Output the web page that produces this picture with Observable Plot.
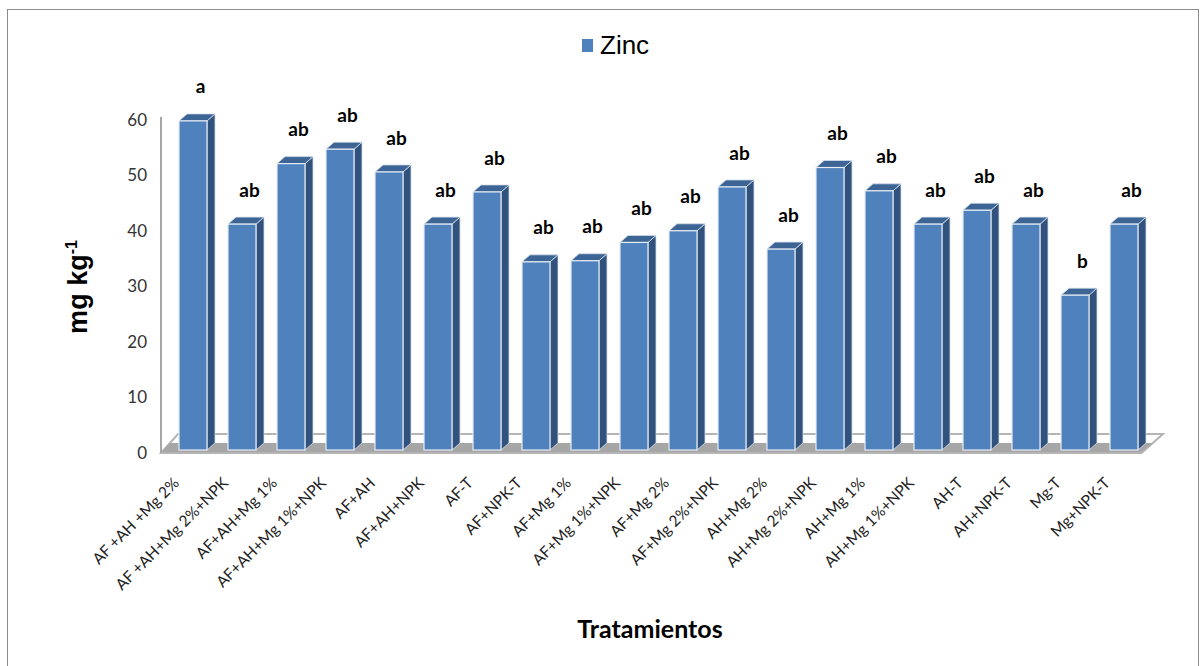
<!DOCTYPE html>
<html>
<head>
<meta charset="utf-8">
<script src="https://cdn.jsdelivr.net/npm/d3@7"></script>
<script src="https://cdn.jsdelivr.net/npm/@observablehq/plot@0.6"></script>
<style>
  body { margin: 0; background: #fff; }
  #wrap { position: relative; width: 1204px; height: 666px; overflow: hidden; background: #fff; }
  #border { position: absolute; left: 7px; top: 9px; width: 1192px; height: 720px; border: 1.5px solid #8C8C8C; box-sizing: border-box; }
  #chart { position: absolute; left: 0; top: 0; }
  #legend { position: absolute; left: 582px; top: 30px; height: 30px; display: flex; align-items: center; font-family: "Liberation Sans", Arial, sans-serif; font-size: 26px; color: #000; }
  #legend .sw { width: 11px; height: 13px; background: #4F81BD; margin-right: 7px; }
  #ytitle { position: absolute; left: 78px; top: 287px; transform: translate(-50%, -50%) rotate(-90deg); font-family: "Liberation Sans", Arial, sans-serif; font-weight: bold; font-size: 27px; white-space: nowrap; color: #000; }
  #ytitle sup { font-size: 16px; }
  #xtitle { position: absolute; left: 650px; top: 628px; transform: translate(-50%, -50%); font-family: Lato, "Open Sans", sans-serif; font-weight: bold; font-size: 25px; white-space: nowrap; color: #000; }
</style>
</head>
<body>
<div id="wrap">
  <div id="border"></div>
  <div id="chart"></div>
  <div id="legend"><div class="sw"></div><span>Zinc</span></div>
  <div id="ytitle">mg kg<sup>-1</sup></div>
  <div id="xtitle">Tratamientos</div>
</div>
<script>
const treatments = [
  "AF +AH +Mg 2%", "AF +AH+Mg 2%+NPK", "AF+AH+Mg 1%", "AF+AH+Mg 1%+NPK", "AF+AH",
  "AF+AH+NPK", "AF-T", "AF+NPK-T", "AF+Mg 1%", "AF+Mg 1%+NPK",
  "AF+Mg 2%", "AF+Mg 2%+NPK", "AH+Mg 2%", "AH+Mg 2%+NPK", "AH+Mg 1%",
  "AH+Mg 1%+NPK", "AH-T", "AH+NPK-T", "Mg-T", "Mg+NPK-T"
];
const zinc = [59.3, 40.7, 51.6, 54.2, 50.1, 40.7, 46.5, 33.9, 34.1, 37.4,
              39.5, 47.4, 36.2, 50.9, 46.7, 40.7, 43.2, 40.7, 27.9, 40.7];
const letters = ["a", "ab", "ab", "ab", "ab", "ab", "ab", "ab", "ab", "ab",
                 "ab", "ab", "ab", "ab", "ab", "ab", "ab", "ab", "b", "ab"];
const yTicks = [0, 10, 20, 30, 40, 50, 60];

const data = treatments.map((t, i) => ({t, v: zinc[i], l: letters[i]}));

const DX = 8, DY = -7;

function renderFloor(index, scales, values, dims) {
  const g = d3.create("svg:g");
  const y0 = scales.y(0);
  const L = dims.marginLeft, R = dims.width - dims.marginRight;
  const fl = L - 7.5, bl = L + 9.5, br = R + 14.5, fr = R - 7;
  const yf = y0 + 3, yb = y0 - 16;
  g.append("path")
    .attr("d", `M${fl},${yf}L${bl},${yb}L${br},${yb}L${fr},${yf}Z`)
    .attr("fill", "#fff").attr("stroke", "#B4B4B4").attr("stroke-width", 2);
  const ym = y0 - 7;
  const t = (yf - ym) / (yf - yb);
  g.append("path")
    .attr("d", `M${fl + 1},${yf - 1}L${fl + (bl - fl) * t},${ym}L${fr + (br - fr) * t},${ym}L${fr},${yf - 1}Z`)
    .attr("fill", "#A6A6A6");
  g.append("line")
    .attr("x1", fl).attr("x2", fl)
    .attr("y1", scales.y(60)).attr("y2", yf)
    .attr("stroke", "#A6A6A6").attr("stroke-width", 2);
  return g.node();
}

function render3d(index, scales, values) {
  const g = d3.create("svg:g");
  const bw = scales.x.bandwidth();
  const X = values.x, Y1 = values.y1, Y2 = values.y2;
  for (const i of index) {
    const x0 = X[i], x1 = x0 + bw;
    const yt = Math.min(Y1[i], Y2[i]), yb = Math.max(Y1[i], Y2[i]);
    g.append("path")
      .attr("d", `M${x1},${yt}L${x1 + DX},${yt + DY}L${x1 + DX},${yb + DY}L${x1},${yb}Z`)
      .attr("fill", "#31527C").attr("stroke", "#D5DEE9").attr("stroke-width", 0.8);
    g.append("path")
      .attr("d", `M${x0},${yt}L${x0 + DX},${yt + DY}L${x1 + DX},${yt + DY}L${x1},${yt}Z`)
      .attr("fill", "#3C6595").attr("stroke", "#D5DEE9").attr("stroke-width", 0.8);
    g.append("rect")
      .attr("x", x0).attr("y", yt).attr("width", bw).attr("height", yb - yt)
      .attr("fill", "#4F81BD").attr("stroke", "#E6ECF4").attr("stroke-width", 1.2);
  }
  return g.node();
}

const plot = Plot.plot({
  width: 1204,
  height: 666,
  marginTop: 117,
  marginBottom: 216,
  marginLeft: 168.5,
  marginRight: 55.5,
  style: {background: "transparent", overflow: "visible"},
  x: {domain: treatments, paddingInner: 0.43, paddingOuter: 0.215, label: null},
  y: {domain: [0, 60], label: null},
  marks: [
    Plot.ruleY([0], {render: renderFloor}),
    Plot.barY(data, {x: "t", y: "v", fill: "#4F81BD", render: render3d}),
    Plot.text(data, {x: "t", y: "v", text: "l", dy: -34, dx: 7, fontSize: 19, fontWeight: "bold", fontFamily: "Lato, sans-serif", fill: "#000"}),
    Plot.axisY(yTicks, {tickSize: 0, tickPadding: 22, dy: 3, fontSize: 17, fontFamily: "Lato, sans-serif", fill: "#333", label: null}),
    Plot.axisX({tickSize: 0, tickRotate: -45, tickPadding: 30, dx: -17, fontSize: 15.5, fontFamily: "Lato, sans-serif", fill: "#222", label: null})
  ]
});
document.getElementById("chart").appendChild(plot);
</script>
</body>
</html>
